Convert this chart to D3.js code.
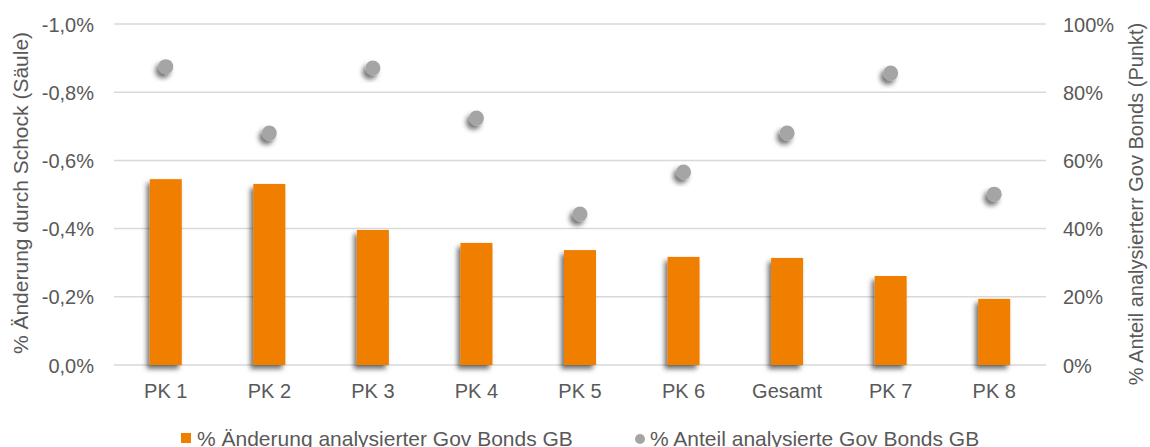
<!DOCTYPE html>
<html>
<head>
<meta charset="utf-8">
<script src="https://cdn.jsdelivr.net/npm/d3@7"></script>
<style>
  body { margin: 0; background: #fff; }
  svg text { font-family: "Liberation Sans", Arial, sans-serif; fill: #595959; }
</style>
</head>
<body>
<div id="chart_div"></div>
<script>
// data
const categories = ["PK 1", "PK 2", "PK 3", "PK 4", "PK 5", "PK 6", "Gesamt", "PK 7", "PK 8"];
const change_values = [-0.545, -0.531, -0.396, -0.358, -0.337, -0.317, -0.314, -0.261, -0.194]; // % Änderung (Säule)
const share_values = [87.5, 68, 87.1, 72.4, 44.3, 56.6, 68, 85.6, 50.1];   // % Anteil (Punkt)
const left_ticks = [0, -0.2, -0.4, -0.6, -0.8, -1.0];
const right_ticks = [0, 20, 40, 60, 80, 100];

const chart_width = 1150, chart_height = 447;
const plot = {left: 114, right: 1046, top: 24, bottom: 365};

const chart_svg = d3.select("#chart_div")
  .append("svg")
    .attr("width", chart_width)
    .attr("height", chart_height);

// shadow like the office chart
const defs = chart_svg.append("defs");
const shadow = defs.append("filter").attr("id", "shadow")
  .attr("x", "-50%").attr("y", "-50%").attr("width", "200%").attr("height", "200%");
shadow.append("feDropShadow")
  .attr("dx", -3).attr("dy", 4).attr("stdDeviation", 2.5)
  .attr("flood-color", "#000").attr("flood-opacity", 0.55);

const de = d3.formatLocale({decimal: ",", thousands: ".", grouping: [3], currency: ["", " €"], minus: "-"});

const x = d3.scaleBand()
  .domain(categories)
  .range([plot.left, plot.right]);

const yLeft = d3.scaleLinear()
  .domain([0, -1.0])
  .range([plot.bottom, plot.top]);

const yRight = d3.scaleLinear()
  .domain([0, 100])
  .range([plot.bottom, plot.top]);

// gridlines
chart_svg.append("g")
  .selectAll("line")
  .data(left_ticks)
  .join("line")
    .attr("x1", plot.left)
    .attr("x2", plot.right)
    .attr("y1", d => yLeft(d))
    .attr("y2", d => yLeft(d))
    .style("stroke", "#d9d9d9")
    .style("stroke-width", 1.5);

// left axis
const leftAxis = chart_svg.append("g")
  .attr("transform", `translate(${plot.left - 20}, 0)`)
  .call(d3.axisLeft(yLeft).tickValues(left_ticks).tickSize(0).tickPadding(0)
    .tickFormat(d => de.format(".1f")(d) + "%"));
leftAxis.select(".domain").remove();
leftAxis.selectAll("text").style("font-size", "20px").attr("dy", "0.35em");

// right axis
const rightAxis = chart_svg.append("g")
  .attr("transform", `translate(${plot.right + 17}, 0)`)
  .call(d3.axisRight(yRight).tickValues(right_ticks).tickSize(0).tickPadding(0)
    .tickFormat(d => d + "%"));
rightAxis.select(".domain").remove();
rightAxis.selectAll("text").style("font-size", "20px").attr("dy", "0.35em");

// x axis labels
const xAxis = chart_svg.append("g")
  .attr("transform", `translate(0, ${plot.bottom})`)
  .call(d3.axisBottom(x).tickSize(0).tickPadding(0));
xAxis.select(".domain").remove();
xAxis.selectAll("text").style("font-size", "20px").attr("y", 33).attr("dy", null);

// bars
const bar_width = 32;
chart_svg.append("g")
  .selectAll("rect")
  .data(change_values)
  .join("rect")
    .attr("x", (d, i) => x(categories[i]) + x.bandwidth() / 2 - bar_width / 2)
    .attr("y", d => yLeft(d))
    .attr("width", bar_width)
    .attr("height", d => yLeft(0) - yLeft(d))
    .style("fill", "#f07f00")
    .attr("filter", "url(#shadow)");

// dots
chart_svg.append("g")
  .selectAll("circle")
  .data(share_values)
  .join("circle")
    .attr("cx", (d, i) => x(categories[i]) + x.bandwidth() / 2)
    .attr("cy", d => yRight(d))
    .attr("r", 7.5)
    .style("fill", "#a5a5a5")
    .attr("filter", "url(#shadow)");

// axis titles
chart_svg.append("text")
  .attr("transform", `translate(28, 193) rotate(-90)`)
  .attr("text-anchor", "middle")
  .style("font-size", "21px")
  .text("% Änderung durch Schock (Säule)");

chart_svg.append("text")
  .attr("transform", `translate(1143, 204) rotate(-90)`)
  .attr("text-anchor", "middle")
  .style("font-size", "20px")
  .text("% Anteil analysierterr Gov Bonds (Punkt)");

// legend
const legend = chart_svg.append("g");
legend.append("rect")
  .attr("x", 181).attr("y", 433).attr("width", 10).attr("height", 10)
  .style("fill", "#f07f00");
legend.append("text")
  .attr("x", 197).attr("y", 446)
  .style("font-size", "21px")
  .text("% Änderung analysierter Gov Bonds GB");
legend.append("circle")
  .attr("cx", 640).attr("cy", 439).attr("r", 5)
  .style("fill", "#a5a5a5");
legend.append("text")
  .attr("x", 650).attr("y", 446)
  .style("font-size", "21px")
  .text("% Anteil analysierte Gov Bonds GB");
</script>
</body>
</html>
